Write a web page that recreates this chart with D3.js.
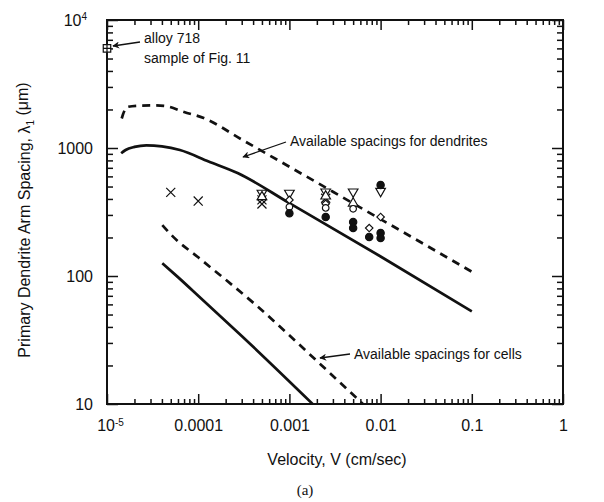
<!DOCTYPE html>
<html>
  <head>
    <meta charset="utf-8">
    <title>Primary dendrite arm spacing</title>
    <style>
      body { margin: 0; background: #fff; }
      text { fill: #111; }
    </style>
  </head>
  <body>
    <script src="https://d3js.org/d3.v7.min.js"></script>
    <script>
      // curves: [velocity cm/s, spacing um]
      const dendUpper = [[1.45e-5, 1700], [1.49e-5, 1810], [1.67e-5, 2090], [2.2e-5, 2140], [3.3e-5, 2150],
        [4.5e-5, 2120], [7e-5, 1910], [1.15e-4, 1714], [3e-4, 1164], [8.1e-4, 778], [3e-3, 455],
        [0.0285, 181], [0.1, 108]];
      const dendLower = [[1.43e-5, 910], [1.6e-5, 965], [2e-5, 1020], [2.7e-5, 1050], [4e-5, 1030],
        [6.3e-5, 964], [1.3e-4, 785], [2.7e-4, 638], [1e-3, 371], [1e-2, 142], [0.1, 53]];
      const cellUpper = [[4.04e-5, 250], [5.33e-5, 202], [1e-4, 140], [4.33e-4, 59], [2e-3, 21.7], [6.4e-3, 10]];
      const cellLower = [[4.04e-5, 126], [6e-5, 98], [1.07e-4, 67], [3e-4, 34], [1.8e-3, 10]];

      // measured points
      const crossPts = [[5e-5, 450], [1e-4, 385], [5e-4, 393], [5e-4, 365], [2.5e-3, 405]];
      const triDownPts = [[5e-4, 445], [1e-3, 445], [2.5e-3, 455], [5e-3, 455], [0.01, 460]];
      const triUpPts = [[5e-4, 415], [2.5e-3, 420], [5e-3, 370]];
      const diamondPts = [[1e-3, 393], [2.5e-3, 366], [7.5e-3, 237], [0.01, 289]];
      const circlePts = [[1e-3, 346], [2.5e-3, 340], [5e-3, 335]];
      const dotPts = [[1e-3, 309], [2.5e-3, 289], [5e-3, 264], [5e-3, 237], [7.5e-3, 202],
        [0.01, 217], [0.01, 198], [0.01, 514]];
      const squarePts = [[1e-5, 6000]];

      const xMajor = [1e-5, 1e-4, 1e-3, 1e-2, 0.1, 1];
      const xLabels = ["10", "0.0001", "0.001", "0.01", "0.1", "1"];
      const yMajor = [10, 100, 1000, 1e4];
      const yLabels = ["10", "100", "1000", "10"];

      const W = 604, H = 502;
      const pL = 107, pR = 563, pT = 20, pB = 404;

      const svg = d3.select("body").append("svg")
        .attr("width", W).attr("height", H)
        .style("font-family", "Arial, 'Liberation Sans', Helvetica, sans-serif");

      const x = d3.scaleLog().domain([1e-5, 1]).range([pL, pR]);
      const y = d3.scaleLog().domain([10, 1e4]).range([pB, pT]);

      const minors = (lo, hi) => {
        const out = [];
        for (let e = lo; e < hi; e++)
          for (let m = 2; m <= 9; m++) out.push(m * Math.pow(10, e));
        return out;
      };
      const xMinor = minors(-5, 0);
      const yMinor = minors(1, 4);

      const defs = svg.append("defs");
      defs.append("clipPath").attr("id", "plot")
        .append("rect").attr("x", pL).attr("y", pT)
        .attr("width", pR - pL).attr("height", pB - pT);

      const tickAxis = (gen, pos, vals, size) => {
        const g = svg.append("g").attr("transform", pos)
          .call(gen.tickValues(vals).tickSize(size).tickSizeOuter(0).tickFormat(""));
        g.select(".domain").remove();
        g.selectAll("line").attr("stroke", "#111").attr("stroke-width", 1.5);
        return g;
      };

      // minor ticks on all sides, pointing inward
      tickAxis(d3.axisBottom(x), `translate(0,${pB})`, xMinor, -5);
      tickAxis(d3.axisTop(x), `translate(0,${pT})`, xMinor, -5);
      tickAxis(d3.axisLeft(y), `translate(${pL},0)`, yMinor, -6);
      tickAxis(d3.axisRight(y), `translate(${pR},0)`, yMinor, -6);
      tickAxis(d3.axisTop(x), `translate(0,${pT})`, xMajor, -10);
      tickAxis(d3.axisRight(y), `translate(${pR},0)`, yMajor, -11);

      // labelled axes
      const gx = svg.append("g").attr("transform", `translate(0,${pB})`)
        .call(d3.axisBottom(x).tickValues(xMajor).tickSize(-10).tickSizeOuter(0)
          .tickPadding(16).tickFormat((d, i) => xLabels[i]));
      gx.select(".domain").remove();
      gx.selectAll("line").attr("stroke", "#111").attr("stroke-width", 1.5);
      gx.selectAll("text").attr("font-size", 16).attr("fill", "#111");
      gx.selectAll("text").filter(d => d === 1e-5)
        .attr("dx", 3)
        .append("tspan").attr("dy", "-0.55em").attr("font-size", 10).text("-5");

      const gy = svg.append("g").attr("transform", `translate(${pL},0)`)
        .call(d3.axisLeft(y).tickValues(yMajor).tickSize(-11).tickSizeOuter(0)
          .tickPadding(14).tickFormat((d, i) => yLabels[i]));
      gy.select(".domain").remove();
      gy.selectAll("line").attr("stroke", "#111").attr("stroke-width", 1.5);
      gy.selectAll("text").attr("font-size", 16).attr("fill", "#111");
      gy.selectAll("text").filter(d => d === 1e4)
        .attr("dx", -6)
        .append("tspan").attr("dy", "-0.55em").attr("font-size", 10).text("4");

      // frame
      svg.append("rect").attr("x", pL).attr("y", pT)
        .attr("width", pR - pL).attr("height", pB - pT)
        .attr("fill", "none").attr("stroke", "#111").attr("stroke-width", 2);

      // curves
      const line = d3.line().x(d => x(d[0])).y(d => y(d[1])).curve(d3.curveMonotoneX);
      const curves = svg.append("g").attr("clip-path", "url(#plot)")
        .attr("fill", "none").attr("stroke", "#111").attr("stroke-width", 2.7);
      curves.append("path").attr("d", line(dendUpper)).attr("stroke-dasharray", "8,6");
      curves.append("path").attr("d", line(dendLower));
      curves.append("path").attr("d", line(cellUpper)).attr("stroke-dasharray", "8,6");
      curves.append("path").attr("d", line(cellLower));

      // markers
      const mk = svg.append("g").attr("stroke", "#111").attr("stroke-width", 1.2);
      const put = (pts, type, size, fill, rot) => {
        mk.selectAll(null).data(pts).enter().append("path")
          .attr("d", d3.symbol().type(type).size(size))
          .attr("transform", d => `translate(${x(d[0])},${y(d[1])}) rotate(${rot || 0})`)
          .attr("fill", fill);
      };
      put(crossPts, d3.symbolTimes || d3.symbolX, 55, "none");
      put(triDownPts, d3.symbolTriangle, 40, "#fff", 180);
      put(triUpPts, d3.symbolTriangle, 40, "#fff");
      put(diamondPts, d3.symbolSquare, 28, "#fff", 45);
      put(circlePts, d3.symbolCircle, 34, "#fff");
      put(dotPts, d3.symbolCircle, 42, "#111");
      put(squarePts, d3.symbolSquare, 56, "#fff");
      mk.selectAll(null).data(squarePts).enter().append("path")
        .attr("d", d => {
          const cx = x(d[0]), cy = y(d[1]);
          return `M${cx - 4},${cy}H${cx + 4}M${cx},${cy - 4}V${cy + 4}`;
        });

      // annotations
      defs.append("marker").attr("id", "head")
        .attr("viewBox", "0 0 10 10").attr("refX", 9).attr("refY", 5)
        .attr("markerWidth", 9).attr("markerHeight", 7).attr("orient", "auto")
        .attr("markerUnits", "userSpaceOnUse")
        .append("path").attr("d", "M0,0L10,5L0,10L3,5Z").attr("fill", "#111");

      const arrow = (x1, y1, x2, y2) => svg.append("line")
        .attr("x1", x1).attr("y1", y1).attr("x2", x2).attr("y2", y2)
        .attr("stroke", "#111").attr("stroke-width", 1.3).attr("marker-end", "url(#head)");

      arrow(140, 42, 113, 46);
      arrow(286, 142, 243, 157);
      arrow(350, 354, 320, 358);

      const note = svg.append("g").attr("font-size", 14);
      note.append("text").attr("x", 144).attr("y", 43).text("alloy 718");
      note.append("text").attr("x", 144).attr("y", 63).text("sample of Fig. 11");
      note.append("text").attr("x", 290).attr("y", 146).text("Available spacings for dendrites");
      note.append("text").attr("x", 354).attr("y", 359).text("Available spacings for cells");

      // axis titles
      svg.append("text").attr("x", 337).attr("y", 465).attr("text-anchor", "middle")
        .attr("font-size", 16).text("Velocity, V (cm/sec)");

      const yt = svg.append("text").attr("text-anchor", "middle").attr("font-size", 16)
        .attr("transform", "translate(30,220) rotate(-90)");
      yt.append("tspan").text("Primary Dendrite Arm Spacing, λ");
      yt.append("tspan").attr("font-size", 10).attr("dy", "0.35em").text("1");
      yt.append("tspan").attr("dy", "-0.35em").text(" (μm)");

      svg.append("text").attr("x", 305).attr("y", 495).attr("text-anchor", "middle")
        .attr("font-family", "'Liberation Serif', 'Times New Roman', serif")
        .attr("font-size", 15).text("(a)");
    </script>
  </body>
</html>
